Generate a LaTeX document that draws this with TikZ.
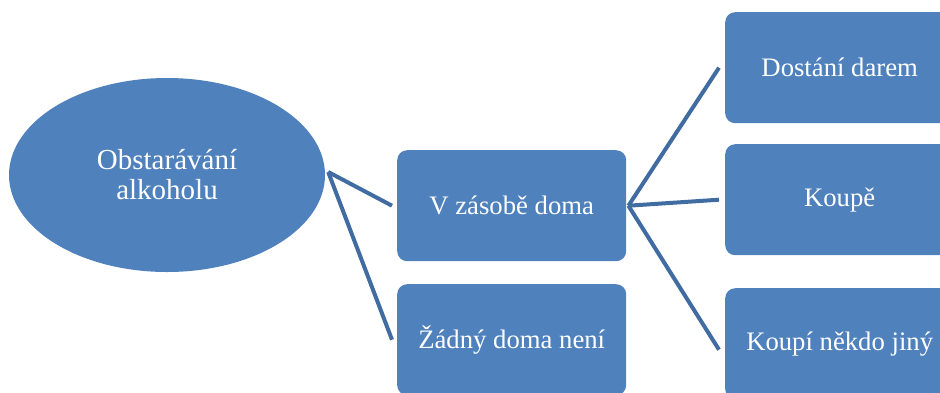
\documentclass[tikz,border=0pt]{standalone}
\usepackage{fontspec}
\setmainfont{Liberation Serif}
\usetikzlibrary{shapes.geometric,calc}
\definecolor{boxblue}{RGB}{79,129,189}
\definecolor{linkblue}{RGB}{64,108,162}
\begin{document}
\begin{tikzpicture}[x=1pt,y=-1pt,
  box/.style={rectangle, rounded corners=10pt, fill=boxblue, text=white,
    minimum width=229pt, minimum height=111pt, inner sep=0pt,
    font=\fontsize{26.7}{30}\selectfont, anchor=north west},
  rootshape/.style={ellipse, fill=boxblue, text=white, align=center,
    minimum width=316pt, minimum height=194pt, inner sep=0pt,
    font=\fontsize{29}{30}\selectfont},
  link/.style={draw=linkblue, line width=4pt}
]
\useasboundingbox (0,0) rectangle (940,392);
\clip (0,0) rectangle (940,392);

% root
\node[rootshape] (root) at (167,175) {Obstarávání\\alkoholu};

% first level
\node[box] (home) at (397,150) {V zásobě doma};
\node[box] (none) at (397,284) {Žádný doma není};

% second level
\node[box] (gift) at (725,12) {Dostání darem};
\node[box] (buy) at (725,144) {Koupě};
\node[box] (other) at (725,288) {Koupí někdo jiný};

% connectors
\coordinate (rj) at ($(root.east)+(3,-3)$);
\coordinate (hj) at ($(home.east)+(2,0)$);
\draw[link] (rj) -- ([xshift=-5pt]home.west);
\draw[link] (rj) -- ([xshift=-5pt]none.west);
\draw[link] (hj) -- ([xshift=-6pt]gift.west);
\draw[link] (hj) -- ([xshift=-6pt]buy.west);
\draw[link] (hj) -- ([xshift=-6pt,yshift=-6pt]other.west);
\end{tikzpicture}
\end{document}
